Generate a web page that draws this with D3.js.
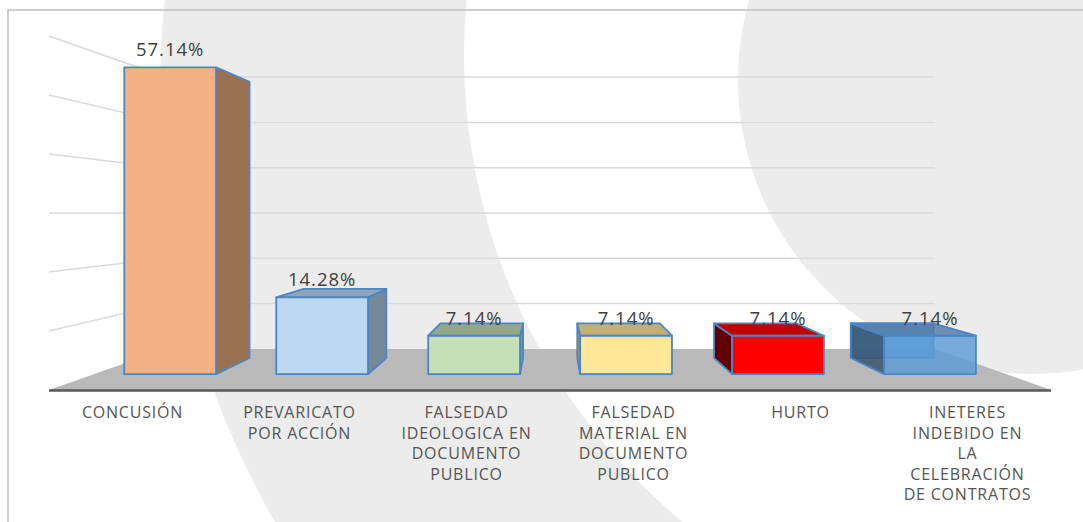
<!DOCTYPE html>
<html>
<head>
<meta charset="utf-8">
<script src="https://cdn.jsdelivr.net/npm/d3@7"></script>
<style>
  body { margin: 0; background: #fff; }
  svg { display: block; }
</style>
</head>
<body>
<script>
// chart data
var categories = ["CONCUSIÓN", "PREVARICATO POR ACCIÓN", "FALSEDAD IDEOLOGICA EN DOCUMENTO PUBLICO",
                  "FALSEDAD MATERIAL EN DOCUMENTO PUBLICO", "HURTO", "INETERES INDEBIDO EN LA CELEBRACIÓN DE CONTRATOS"];
var labelLines = [
    ["CONCUSIÓN"],
    ["PREVARICATO", "POR ACCIÓN"],
    ["FALSEDAD", "IDEOLOGICA EN", "DOCUMENTO", "PUBLICO"],
    ["FALSEDAD", "MATERIAL EN", "DOCUMENTO", "PUBLICO"],
    ["HURTO"],
    ["INETERES", "INDEBIDO EN", "LA", "CELEBRACIÓN", "DE CONTRATOS"]
];
var values = [57.14, 14.28, 7.14, 7.14, 7.14, 7.14];
var valueLabels = ["57.14%", "14.28%", "7.14%", "7.14%", "7.14%", "7.14%"];
var gridTicks = [10, 20, 30, 40, 50, 60];

// bar colours: front, top, side
var frontColors = ["#f4b183", "#bdd7ee", "#c5e0b4", "#ffe699", "#ff0000", "#5b9bd5"];
var topColors   = ["#c08a66", "#8fa5bc", "#94a888", "#c4ae74", "#c00000", "#4f7aa6"];
var sideColors  = ["#9a7151", "#778899", "#7f9471", "#a8955f", "#600000", "#34506d"];

var w = 1083, h = 522;

// one point perspective
var VP = { x: 551, y: 213 };
var S_FLOOR = 1, S_FRONT = 0.91, S_BACK = 0.819, S_WALL = 0.768;
function proj(x, y, s) {
    return [VP.x + (x - VP.x) * s, VP.y + (y - VP.y) * s];
}

var xScale = d3.scaleBand().domain(categories).range([49, 1051]);
var yScale = d3.scaleLinear().domain([0, 60]).range([390, 36]);

var svg = d3.select("body").append("svg")
    .attr("width", w)
    .attr("height", h);

// watermark background
svg.append("circle").attr("cx", 1030).attr("cy", 90).attr("r", 870).attr("fill", "#ececec");
svg.append("circle").attr("cx", 1072).attr("cy", 55).attr("r", 608).attr("fill", "#ffffff");
svg.append("circle").attr("cx", 1032).attr("cy", 80).attr("r", 294).attr("fill", "#ececec");

// frame
svg.append("rect")
    .attr("x", 8).attr("y", 10)
    .attr("width", 1200).attr("height", 600)
    .attr("fill", "none")
    .attr("stroke", "#bfbfbf")
    .attr("stroke-width", 1.5);

var x0 = xScale.range()[0], x1 = xScale.range()[1], y0 = yScale(0);

// wall gridlines
var grid = svg.append("g").attr("stroke", "#d9d9d9").attr("stroke-width", 1.5);
gridTicks.forEach(function(t) {
    var a = proj(x0, yScale(t), S_FLOOR),
        b = proj(x0, yScale(t), S_WALL),
        c = proj(x1, yScale(t), S_WALL);
    grid.append("line").attr("x1", a[0]).attr("y1", a[1]).attr("x2", b[0]).attr("y2", b[1]);
    grid.append("line").attr("x1", b[0]).attr("y1", b[1]).attr("x2", c[0]).attr("y2", c[1]);
});

// floor
var floorPts = [proj(x0, y0, S_FLOOR), proj(x1, y0, S_FLOOR), proj(x1, y0, S_WALL), proj(x0, y0, S_WALL)];
svg.append("polygon")
    .attr("points", floorPts.map(function(p) { return p.join(","); }).join(" "))
    .attr("fill", "#b9b9b9");
svg.append("line")
    .attr("x1", floorPts[0][0]).attr("y1", floorPts[0][1] + 0.5)
    .attr("x2", floorPts[1][0]).attr("y2", floorPts[1][1] + 0.5)
    .attr("stroke", "#595959").attr("stroke-width", 2.5);

// bars
var bars = svg.append("g");
function face(g, pts, fill, op) {
    g.append("polygon")
        .attr("points", pts.map(function(p) { return p.join(","); }).join(" "))
        .attr("fill", fill)
        .attr("fill-opacity", op)
        .attr("stroke", "#4a86c5")
        .attr("stroke-width", 1.8)
        .attr("stroke-linejoin", "round");
}

categories.forEach(function(c, i) {
    var cx = xScale(c) + xScale.bandwidth() / 2;
    var hw = xScale.bandwidth() * 0.302;
    var bl = cx - hw, br = cx + hw, yt = yScale(values[i]);
    var F = function(x, y) { return proj(x, y, S_FRONT); };
    var B = function(x, y) { return proj(x, y, S_BACK); };
    var g = bars.append("g");
    var op = i == 5 ? 0.82 : 1;

    if (op < 1) {
        face(g, [B(bl, yt), B(br, yt), B(br, y0), B(bl, y0)], frontColors[i], op);
    }
    if (F(br, yt)[0] < VP.x) {
        face(g, [F(br, yt), B(br, yt), B(br, y0), F(br, y0)], sideColors[i], op);
    }
    if (F(bl, yt)[0] > VP.x) {
        face(g, [F(bl, yt), B(bl, yt), B(bl, y0), F(bl, y0)], sideColors[i], op);
    }
    if (F(bl, yt)[1] > VP.y) {
        face(g, [F(bl, yt), F(br, yt), B(br, yt), B(bl, yt)], topColors[i], op);
    }
    face(g, [F(bl, yt), F(br, yt), F(br, y0), F(bl, y0)], frontColors[i], op);

    // value label
    svg.append("text")
        .attr("x", F(cx, yt)[0])
        .attr("y", F(cx, yt)[1] - 11)
        .attr("text-anchor", "middle")
        .attr("font-family", "'Open Sans', sans-serif")
        .attr("font-size", 18.5)
        .attr("letter-spacing", 1)
        .attr("fill", "#404040")
        .text(valueLabels[i]);
});

// category labels
categories.forEach(function(c, i) {
    var t = svg.append("text")
        .attr("text-anchor", "middle")
        .attr("font-family", "'Open Sans', sans-serif")
        .attr("font-size", 16)
        .attr("letter-spacing", 0.8)
        .attr("fill", "#555555");
    labelLines[i].forEach(function(line, j) {
        t.append("tspan")
            .attr("x", xScale(c) + xScale.bandwidth() / 2)
            .attr("y", 418 + j * 20.5)
            .text(line);
    });
});
</script>
</body>
</html>
